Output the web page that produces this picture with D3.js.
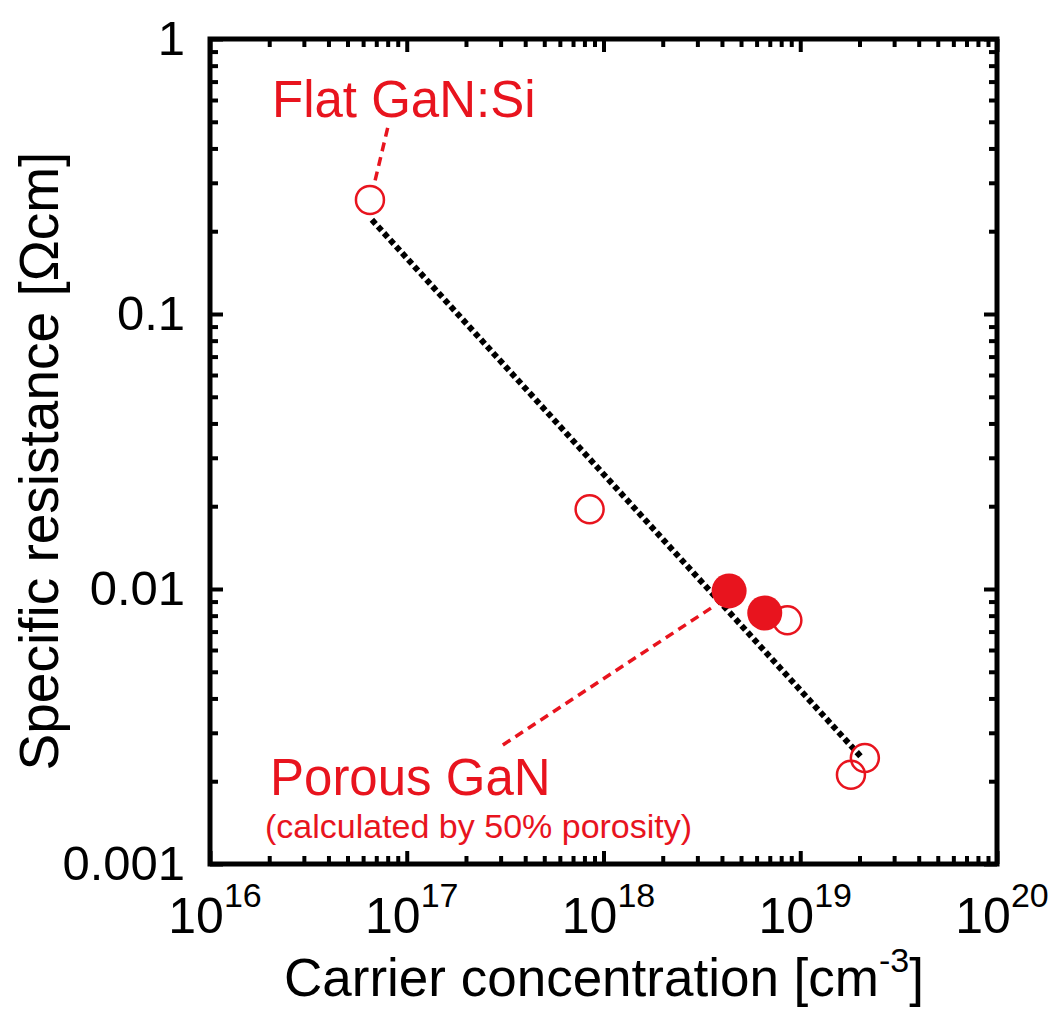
<!DOCTYPE html>
<html>
<head>
<meta charset="utf-8">
<script src="https://cdn.jsdelivr.net/npm/d3@7"></script>
<style>
	body { margin: 0; background: #fff; }
	svg text { font-family: "Liberation Sans", Arial, sans-serif; }
</style>
</head>
<body>
<svg id="chart" width="1058" height="1016"></svg>
<script>
// flat GaN:Si (open circles)
var flatConc = [6.5e16, 8.5e17, 8.6e18, 2.13e19, 1.81e19];
var flatRes = [0.26, 0.0195, 0.0077, 0.00243, 0.00211];

// porous GaN, calculated by 50% porosity (filled circles)
var porousConc = [4.35e18, 6.6e18];
var porousRes = [0.00984, 0.00818];

// dotted guide line
var fitConc = [6.65e16, 2.04e19];
var fitRes = [0.22, 0.00245];

var xTicks = [1e16, 1e17, 1e18, 1e19, 1e20];
var xTickExp = ['16', '17', '18', '19', '20'];
var yTicks = [0.001, 0.01, 0.1, 1];
var yTickLabels = ['0.001', '0.01', '0.1', '1'];

// annotation leaders, data coords [from, to]
var flatLeader = [[8.0e16, 0.475], [6.8e16, 0.292]];
var porousLeader = [[3.08e17, 0.00271], [3.65e18, 0.00867]];

var red = '#e8141e';

var svg = d3.select('#chart'),
	margin = {left: 210, top: 39},
	width = 787,
	height = 825;

var x = d3.scaleLog().domain([1e16, 1e20]).range([0, width]);
var y = d3.scaleLog().domain([0.001, 1]).range([height, 0]);

var g = svg.append('g').attr('transform', 'translate(' + margin.left + ',' + margin.top + ')');

function minorOf(scale) {
	return scale.ticks().filter(function (v) {
		var e = Math.log10(v);
		return Math.abs(e - Math.round(e)) > 1e-6;
	});
}

// ticks on all four sides, pointing inward
function addAxis(axisFn, pos, values, size) {
	var ax = g.append('g')
		.attr('transform', pos)
		.call(axisFn.tickValues(values).tickSize(size).tickSizeOuter(0).tickFormat(''));
	ax.select('.domain').remove();
	ax.selectAll('line').attr('stroke', '#000').attr('stroke-width', 4);
}

var xMinor = minorOf(x), yMinor = minorOf(y);
addAxis(d3.axisBottom(x), 'translate(0,' + height + ')', xTicks, -13);
addAxis(d3.axisBottom(x), 'translate(0,' + height + ')', xMinor, -8);
addAxis(d3.axisTop(x), 'translate(0,0)', xTicks, -13);
addAxis(d3.axisTop(x), 'translate(0,0)', xMinor, -8);
addAxis(d3.axisLeft(y), 'translate(0,0)', yTicks, -13);
addAxis(d3.axisLeft(y), 'translate(0,0)', yMinor, -8);
addAxis(d3.axisRight(y), 'translate(' + width + ',0)', yTicks, -13);
addAxis(d3.axisRight(y), 'translate(' + width + ',0)', yMinor, -8);

g.append('rect')
	.attr('width', width)
	.attr('height', height)
	.attr('fill', 'none')
	.attr('stroke', '#000')
	.attr('stroke-width', 5);

// tick labels
g.append('g').selectAll('text')
	.data(yTicks)
	.enter().append('text')
	.attr('x', -25)
	.attr('y', function (d) { return y(d) + 16; })
	.attr('text-anchor', 'end')
	.attr('font-size', 49)
	.text(function (d, i) { return yTickLabels[i]; });

var xl = g.append('g').selectAll('text')
	.data(xTicks)
	.enter().append('text')
	.attr('x', function (d) { return x(d) + 5; })
	.attr('y', height + 69)
	.attr('text-anchor', 'middle')
	.attr('font-size', 50);
xl.append('tspan').text('10');
xl.append('tspan')
	.attr('font-size', 34)
	.attr('dy', -26)
	.text(function (d, i) { return xTickExp[i]; });

// axis titles
var xt = svg.append('text')
	.attr('x', 604)
	.attr('y', 996)
	.attr('text-anchor', 'middle')
	.attr('font-size', 53);
xt.append('tspan').text('Carrier concentration [cm');
xt.append('tspan').attr('font-size', 34).attr('dy', -24).text('-3');
xt.append('tspan').attr('dy', 24).text(']');

svg.append('text')
	.attr('transform', 'translate(58,461) rotate(-90)')
	.attr('text-anchor', 'middle')
	.attr('font-size', 55)
	.text('Specific resistance [\u03A9cm]');

// dotted guide line
var line = d3.line()
	.x(function (d) { return x(d[0]); })
	.y(function (d) { return y(d[1]); });

g.append('path')
	.datum(d3.zip(fitConc, fitRes))
	.attr('d', line)
	.attr('fill', 'none')
	.attr('stroke', '#000')
	.attr('stroke-width', 6)
	.attr('stroke-dasharray', '5.5 3.5');

// leaders
[flatLeader, porousLeader].forEach(function (l) {
	g.append('path')
		.datum(l)
		.attr('d', line)
		.attr('fill', 'none')
		.attr('stroke', red)
		.attr('stroke-width', 3.5)
		.attr('stroke-dasharray', '9 6');
});

// markers
g.append('g').selectAll('circle')
	.data(d3.zip(flatConc, flatRes))
	.enter().append('circle')
	.attr('cx', function (d) { return x(d[0]); })
	.attr('cy', function (d) { return y(d[1]); })
	.attr('r', 14)
	.attr('fill', 'none')
	.attr('stroke', red)
	.attr('stroke-width', 2.5);

g.append('g').selectAll('circle')
	.data(d3.zip(porousConc, porousRes))
	.enter().append('circle')
	.attr('cx', function (d) { return x(d[0]); })
	.attr('cy', function (d) { return y(d[1]); })
	.attr('r', 17.5)
	.attr('fill', red);

// annotation texts
svg.append('text')
	.attr('x', 272)
	.attr('y', 117)
	.attr('font-size', 51)
	.attr('fill', red)
	.text('Flat GaN:Si');

svg.append('text')
	.attr('x', 270)
	.attr('y', 795)
	.attr('font-size', 51)
	.attr('fill', red)
	.text('Porous GaN');

svg.append('text')
	.attr('x', 265)
	.attr('y', 838)
	.attr('font-size', 34)
	.attr('fill', red)
	.text('(calculated by 50% porosity)');
</script>
</body>
</html>
